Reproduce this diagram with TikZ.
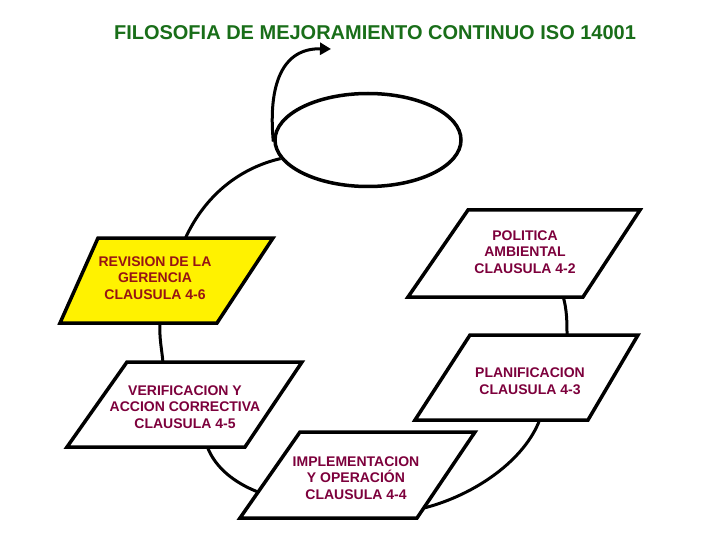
\documentclass[tikz,border=0pt]{standalone}
\usepackage{fontspec}
\setmainfont{Liberation Sans}
\usetikzlibrary{shapes.geometric,arrows.meta}
\definecolor{titlegreen}{RGB}{25,110,25}
\definecolor{boxtext}{RGB}{125,0,60}
\definecolor{revtext}{RGB}{150,20,20}
\tikzset{
  boxshape/.style={draw=black, line width=3.5pt, fill=white, line join=miter},
  revshape/.style={boxshape, fill=yellow},
  boxlabel/.style={text=boxtext, font=\fontsize{14}{16.8}\selectfont\bfseries, align=center, inner sep=0pt},
  conn/.style={draw=black, line width=3pt},
}
\begin{document}
\begin{tikzpicture}[x=1pt,y=-1pt]
\useasboundingbox (0,0) rectangle (720,540);
% title
\node[text=titlegreen, font=\fontsize{20}{24}\selectfont\bfseries] (title) at (375,33) {FILOSOFIA DE MEJORAMIENTO CONTINUO ISO 14001};
% loop ellipse
\node[ellipse, draw, line width=3.5pt, minimum width=186pt, minimum height=93pt, inner sep=0pt] (loop) at (368,140) {};
% connection points
\coordinate (revtop) at (185,239);
\coordinate (revbot) at (160,322);
\coordinate (vertop) at (163,363);
\coordinate (verbot) at (207,446);
\coordinate (impleft) at (258,492);
\coordinate (impright) at (424,508);
\coordinate (planbot) at (540,419);
\coordinate (plantop) at (567,336);
\coordinate (polbot) at (563,296);
\coordinate (arrowend) at (331,49);
% connectors
\draw[conn] (revtop) .. controls (205,195) and (240,168) .. (loop.192);
\draw[conn, -{Triangle[length=11pt,width=12pt]}] (loop.181) .. controls (268,85) and (282,48) .. (arrowend);
\draw[conn] (revbot) .. controls (159,338) and (162,350) .. (vertop);
\draw[conn] (verbot) .. controls (215,468) and (235,483) .. (impleft);
\draw[conn] (impright) .. controls (475,495) and (525,460) .. (planbot);
\draw[conn] (polbot) .. controls (567,310) and (567,322) .. (plantop);
% boxes
\draw[boxshape] (468,210) -- (640,210) -- (583,297) -- (408,297) -- cycle;
\node[boxlabel] (pol) at (525,252) {POLITICA\\AMBIENTAL\\CLAUSULA 4-2};
\draw[boxshape] (470,335) -- (638,335) -- (588,420) -- (415,420) -- cycle;
\node[boxlabel] (plan) at (530,381) {PLANIFICACION\\CLAUSULA 4-3};
\draw[boxshape] (300,432) -- (475,432) -- (417,518) -- (240,518) -- cycle;
\node[boxlabel] (impl) at (356,478) {IMPLEMENTACION\\Y OPERACIÓN\\CLAUSULA 4-4};
\draw[boxshape] (127,362) -- (302,362) -- (245,447) -- (67,447) -- cycle;
\node[boxlabel] (ver) at (185,407) {VERIFICACION Y\\ACCION CORRECTIVA\\CLAUSULA 4-5};
\draw[revshape] (98,238) -- (273,238) -- (217,323) -- (60,323) -- cycle;
\node[boxlabel, text=revtext] (rev) at (155,278) {REVISION DE LA\\GERENCIA\\CLAUSULA 4-6};
\end{tikzpicture}
\end{document}
